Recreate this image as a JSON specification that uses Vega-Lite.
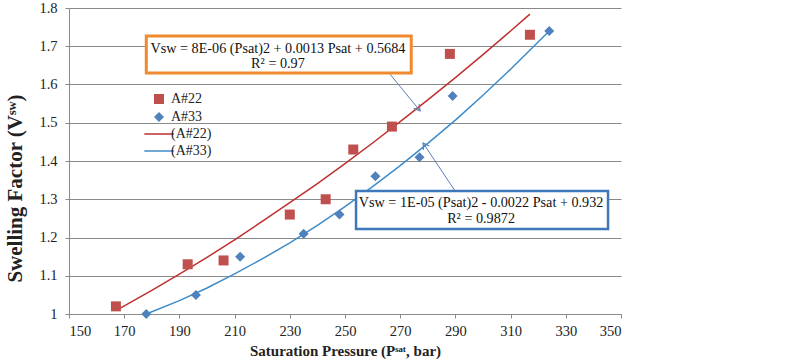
{
  "$schema": "https://vega.github.io/schema/vega-lite/v6.json",
  "width": 552,
  "height": 306,
  "autosize": "none",
  "padding": {"left": 69, "top": 8, "right": 179, "bottom": 48},
  "background": "white",
  "config": {
    "view": {"stroke": null},
    "font": "Liberation Serif",
    "axis": {
      "domainColor": "#8a8a8a",
      "tickColor": "#8a8a8a",
      "tickSize": 4,
      "labelFont": "Liberation Serif",
      "labelFontSize": 14.5,
      "labelColor": "#222222",
      "titleFont": "Liberation Serif",
      "titleFontWeight": "bold",
      "titleColor": "#222222"
    }
  },
  "datasets": {
    "pts": [
      {"x": 167, "y": 1.02, "s": "A#22"},
      {"x": 193, "y": 1.13, "s": "A#22"},
      {"x": 206, "y": 1.14, "s": "A#22"},
      {"x": 230, "y": 1.26, "s": "A#22"},
      {"x": 243, "y": 1.30, "s": "A#22"},
      {"x": 253, "y": 1.43, "s": "A#22"},
      {"x": 267, "y": 1.49, "s": "A#22"},
      {"x": 288, "y": 1.68, "s": "A#22"},
      {"x": 317, "y": 1.73, "s": "A#22"},
      {"x": 178, "y": 1.00, "s": "A#33"},
      {"x": 196, "y": 1.05, "s": "A#33"},
      {"x": 212, "y": 1.15, "s": "A#33"},
      {"x": 235, "y": 1.21, "s": "A#33"},
      {"x": 248, "y": 1.26, "s": "A#33"},
      {"x": 261, "y": 1.36, "s": "A#33"},
      {"x": 277, "y": 1.41, "s": "A#33"},
      {"x": 289, "y": 1.57, "s": "A#33"},
      {"x": 324, "y": 1.74, "s": "A#33"}
    ],
    "fit": [
      {"x": 167, "y": 1.009, "s": "(A#22)"},
      {"x": 180, "y": 1.062, "s": "(A#22)"},
      {"x": 190, "y": 1.104, "s": "(A#22)"},
      {"x": 200, "y": 1.148, "s": "(A#22)"},
      {"x": 210, "y": 1.194, "s": "(A#22)"},
      {"x": 220, "y": 1.242, "s": "(A#22)"},
      {"x": 230, "y": 1.291, "s": "(A#22)"},
      {"x": 240, "y": 1.341, "s": "(A#22)"},
      {"x": 250, "y": 1.393, "s": "(A#22)"},
      {"x": 260, "y": 1.447, "s": "(A#22)"},
      {"x": 270, "y": 1.503, "s": "(A#22)"},
      {"x": 280, "y": 1.560, "s": "(A#22)"},
      {"x": 290, "y": 1.618, "s": "(A#22)"},
      {"x": 300, "y": 1.678, "s": "(A#22)"},
      {"x": 310, "y": 1.740, "s": "(A#22)"},
      {"x": 317, "y": 1.784, "s": "(A#22)"},
      {"x": 178, "y": 1.000, "s": "(A#33)"},
      {"x": 190, "y": 1.035, "s": "(A#33)"},
      {"x": 200, "y": 1.068, "s": "(A#33)"},
      {"x": 210, "y": 1.105, "s": "(A#33)"},
      {"x": 220, "y": 1.144, "s": "(A#33)"},
      {"x": 230, "y": 1.186, "s": "(A#33)"},
      {"x": 240, "y": 1.232, "s": "(A#33)"},
      {"x": 250, "y": 1.281, "s": "(A#33)"},
      {"x": 260, "y": 1.333, "s": "(A#33)"},
      {"x": 270, "y": 1.388, "s": "(A#33)"},
      {"x": 280, "y": 1.446, "s": "(A#33)"},
      {"x": 290, "y": 1.507, "s": "(A#33)"},
      {"x": 300, "y": 1.572, "s": "(A#33)"},
      {"x": 310, "y": 1.640, "s": "(A#33)"},
      {"x": 324, "y": 1.740, "s": "(A#33)"}
    ],
    "boxO": [{"x": 178, "x2": 274, "y": 1.727, "y2": 1.630}],
    "boxB": [{"x": 254, "x2": 345.3, "y": 1.3216, "y2": 1.222}],
    "labels": [
      {"x": 225.7, "y": 1.692, "t": "Vsw = 8E-06 (Psat)2 + 0.0013 Psat + 0.5684"},
      {"x": 225.7, "y": 1.653, "t": "R² = 0.97"},
      {"x": 299.3, "y": 1.291, "t": "Vsw = 1E-05 (Psat)2 - 0.0022 Psat + 0.932"},
      {"x": 299.3, "y": 1.248, "t": "R² = 0.9872"}
    ],
    "arrows": [
      {"x": 266.3, "y": 1.627, "x2": 277.2, "y2": 1.531},
      {"x": 289.9, "y": 1.3216, "x2": 278.3, "y2": 1.447}
    ],
    "head1": [{"x": 277.2, "y": 1.531}],
    "head2": [{"x": 278.3, "y": 1.447}]
  },
  "encoding": {
    "x": {
      "field": "x", "type": "quantitative",
      "scale": {"domain": [150, 350], "nice": false, "zero": false},
      "axis": {
        "values": [150, 170, 190, 210, 230, 250, 270, 290, 310, 330, 350],
        "grid": false,
        "labelPadding": 6,
        "title": "Saturation Pressure (Pˢᵃᵗ, bar)",
        "titleFontSize": 15,
        "titlePadding": 6
      }
    },
    "y": {
      "field": "y", "type": "quantitative",
      "scale": {"domain": [1, 1.8], "nice": false, "zero": false},
      "axis": {
        "values": [1, 1.1, 1.2, 1.3, 1.4, 1.5, 1.6, 1.7, 1.8],
        "format": "~g",
        "grid": true,
        "gridColor": "#8a8a8a",
        "gridWidth": 1,
        "labelPadding": 8,
        "title": "Swelling Factor (Vˢʷ)",
        "titleFontSize": 21,
        "titleY": 180,
        "titlePadding": 13
      }
    }
  },
  "layer": [
    {
      "data": {"name": "fit"},
      "mark": {"type": "line", "strokeWidth": 1.5},
      "encoding": {
        "color": {
          "field": "s", "type": "nominal",
          "scale": {"domain": ["(A#22)", "(A#33)"], "range": ["#BE2F2F", "#3D8BC9"]},
          "legend": {
            "title": null, "orient": "none", "legendX": 83, "legendY": 119,
            "symbolType": "M-3,0L3,0", "symbolSize": 96, "symbolStrokeWidth": 1.5,
            "labelFont": "Liberation Serif", "labelFontSize": 14, "labelColor": "#222222",
            "labelOffset": 5, "rowPadding": 3
          }
        }
      }
    },
    {
      "data": {"name": "pts"},
      "mark": {"type": "point", "filled": true, "opacity": 1, "size": 100},
      "encoding": {
        "color": {
          "field": "s", "type": "nominal",
          "scale": {"domain": ["A#22", "A#33"], "range": ["#C0504D", "#4F81BD"]},
          "legend": {
            "title": null, "orient": "none", "legendX": 83, "legendY": 84,
            "symbolSize": 100, "symbolOpacity": 1,
            "labelFont": "Liberation Serif", "labelFontSize": 14, "labelColor": "#222222",
            "labelOffset": 5, "rowPadding": 2
          }
        },
        "shape": {
          "field": "s", "type": "nominal",
          "scale": {"domain": ["A#22", "A#33"], "range": ["square", "diamond"]},
          "legend": {
            "title": null, "orient": "none", "legendX": 83, "legendY": 84,
            "symbolSize": 100, "symbolOpacity": 1,
            "labelFont": "Liberation Serif", "labelFontSize": 14, "labelColor": "#222222",
            "labelOffset": 5, "rowPadding": 2
          }
        }
      }
    },
    {
      "data": {"name": "arrows"},
      "mark": {"type": "rule", "color": "#5A7FB5", "strokeWidth": 1},
      "encoding": {
        "x2": {"field": "x2"},
        "y2": {"field": "y2"}
      }
    },
    {
      "data": {"name": "head1"},
      "mark": {"type": "point", "shape": "M-0.7,1.2L0,0L0.7,1.2", "filled": false, "size": 100, "angle": 142, "color": "#5A7FB5", "strokeWidth": 1.2, "opacity": 1},
      "encoding": {}
    },
    {
      "data": {"name": "head2"},
      "mark": {"type": "point", "shape": "M-0.7,1.2L0,0L0.7,1.2", "filled": false, "size": 100, "angle": 326, "color": "#5A7FB5", "strokeWidth": 1.2, "opacity": 1},
      "encoding": {}
    },
    {
      "data": {"name": "boxO"},
      "mark": {"type": "rect", "fill": "white", "stroke": "#F08A2E", "strokeWidth": 3},
      "encoding": {
        "x2": {"field": "x2"},
        "y2": {"field": "y2"}
      }
    },
    {
      "data": {"name": "boxB"},
      "mark": {"type": "rect", "fill": "white", "stroke": "#3F78B8", "strokeWidth": 2.5},
      "encoding": {
        "x2": {"field": "x2"},
        "y2": {"field": "y2"}
      }
    },
    {
      "data": {"name": "labels"},
      "mark": {"type": "text", "font": "Liberation Serif", "fontSize": 14.2, "color": "#111111", "align": "center", "baseline": "middle"},
      "encoding": {
        "text": {"field": "t"}
      }
    }
  ],
  "resolve": {"scale": {"color": "independent", "shape": "independent"}}
}
